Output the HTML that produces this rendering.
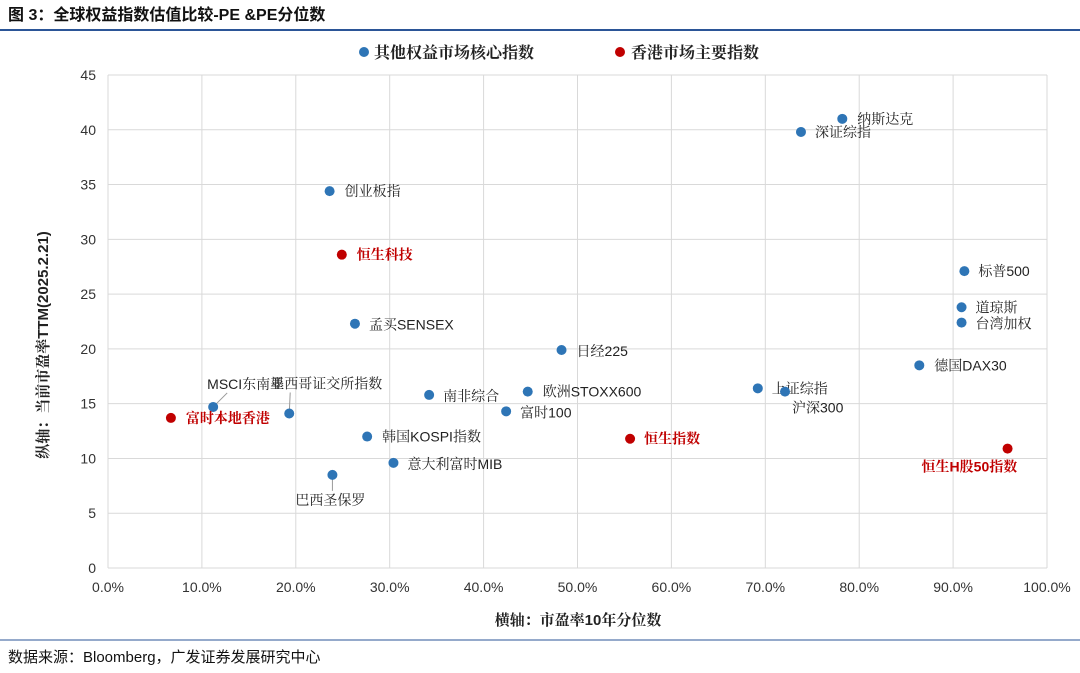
<!DOCTYPE html>
<html><head><meta charset="utf-8"><style>
body{margin:0;background:#fff;width:1080px;height:668px;overflow:hidden;font-family:"Liberation Sans","Noto Sans CJK SC",sans-serif}
</style></head><body>
<svg id="c" width="1080" height="668" xmlns="http://www.w3.org/2000/svg"></svg>
<script>
const names=["纳斯达克","深证综指","创业板指","恒生科技","标普500","道琼斯","台湾加权","孟买SENSEX","日经225","德国DAX30","上证综指","沪深300","欧洲STOXX600","南非综合","MSCI东南亚","墨西哥证交所指数","富时100","富时本地香港","韩国KOSPI指数","恒生指数","恒生H股50指数","意大利富时MIB","巴西圣保罗"];
const xVals=[78.2,73.8,23.6,24.9,91.2,90.9,90.9,26.3,48.3,86.4,69.2,72.1,44.7,34.2,11.2,19.3,42.4,6.7,27.6,55.6,95.8,30.4,23.9];
const yVals=[41.0,39.8,34.4,28.6,27.1,23.8,22.4,22.3,19.9,18.5,16.4,16.1,16.1,15.8,14.7,14.1,14.3,13.7,12.0,11.8,10.9,9.6,8.5];
const groups=[0,0,0,1,0,0,0,0,0,0,0,0,0,0,0,0,0,1,0,1,1,0,0];
const xTicks=[0,10,20,30,40,50,60,70,80,90,100];
const yTicks=[0,5,10,15,20,25,30,35,40,45];
// label layout offsets (dx,dy) relative to point; leader lines for a few
const lab=[[15,5],[14,5],[15,5],[15,5],[14,5],[14,5],[14,6],[14,6],[15,6],[15,5],[14,5],[7,21],[15,5],[14,6],[-6,-18],[-19,-25],[14,6],[15,5],[15,5],[14,5],[-86,23],[14,6],[-37,30]];
const leader=[14,15,22];
const S=document.getElementById('c');const NS='http://www.w3.org/2000/svg';
const X0=108,X1=1047,Y0=568,Y1=75;
const sx=v=>X0+(X1-X0)*v/100, sy=v=>Y0-(Y0-Y1)*v/45;
function mk(t,a,p){const e=document.createElementNS(NS,t);for(const k in a)e.setAttribute(k,a[k]);(p||S).appendChild(e);return e;}
function tx(x,y,s,a){const e=mk('text',Object.assign({x:x,y:y},a));e.textContent=s;return e;}
let t=tx(8,20,"图 3：全球权益指数估值比较-PE &PE分位数",{'font-size':16,'font-weight':'bold',fill:'#111'});

mk('line',{x1:0,y1:30,x2:1080,y2:30,stroke:'#2b5597','stroke-width':2});
mk('line',{x1:0,y1:640,x2:1080,y2:640,stroke:'#2b5597','stroke-width':1});
t=tx(8,662,"数据来源：Bloomberg，广发证券发展研究中心",{'font-size':15,fill:'#111'});

xTicks.forEach(v=>{mk('line',{x1:sx(v),y1:Y1,x2:sx(v),y2:Y0,stroke:'#d9d9d9'});
 let e=tx(sx(v),592,v.toFixed(1)+'%',{'font-size':14,'text-anchor':'middle',fill:'#333'});
 });
yTicks.forEach(v=>{mk('line',{x1:X0,y1:sy(v),x2:X1,y2:sy(v),stroke:'#d9d9d9'});
 let e=tx(96,sy(v)+5,String(v),{'font-size':14,'text-anchor':'end',fill:'#333'});
 });
t=tx(578,625,"横轴：市盈率10年分位数",{'font-size':15,'font-weight':'bold','text-anchor':'middle',fill:'#222','font-family':'"Liberation Sans","Noto Serif CJK SC",serif'});

t=tx(0,0,"纵轴：当前市盈率TTM(2025.2.21)",{'font-size':15,'font-weight':'bold','text-anchor':'middle',fill:'#222',transform:'translate(48,345) rotate(-90)','font-family':'"Liberation Sans","Noto Serif CJK SC",serif'});

// legend
let g=mk('g',{});
mk('circle',{cx:364,cy:52,r:5,fill:'#2e75b6'},g);tx(374,58,"其他权益市场核心指数",{'font-size':16,'font-weight':'bold',fill:'#222','font-family':'"Noto Serif CJK SC",serif'}).parentNode===g||0;
g.lastChild||0;
let l1=S.lastChild;g.appendChild(l1);
let g2=mk('g',{});
mk('circle',{cx:620,cy:52,r:5,fill:'#c00000'},g2);let l2=tx(631,58,"香港市场主要指数",{'font-size':16,'font-weight':'bold',fill:'#222','font-family':'"Noto Serif CJK SC",serif'});g2.appendChild(l2);
names.forEach((n,i)=>{
 const cx=sx(xVals[i]),cy=sy(yVals[i]);const red=groups[i]===1;
 const lx=cx+lab[i][0],ly=cy+lab[i][1];
 if(leader.includes(i)){mk('line',{x1:cx,y1:cy,x2:i==22?cx:lx+20,y2:i==22?ly-14:ly+4,stroke:'#999'});}
 const c=mk('circle',{cx:cx,cy:cy,r:5,fill:red?'#c00000':'#2e75b6'});
 
 
 const e=tx(lx,ly,n,{'font-size':14,fill:red?'#c00000':'#222','font-weight':red?'bold':'normal','font-family':'"Liberation Sans","Noto Serif CJK SC",serif'});
 
 
});
</script>
</body></html>
